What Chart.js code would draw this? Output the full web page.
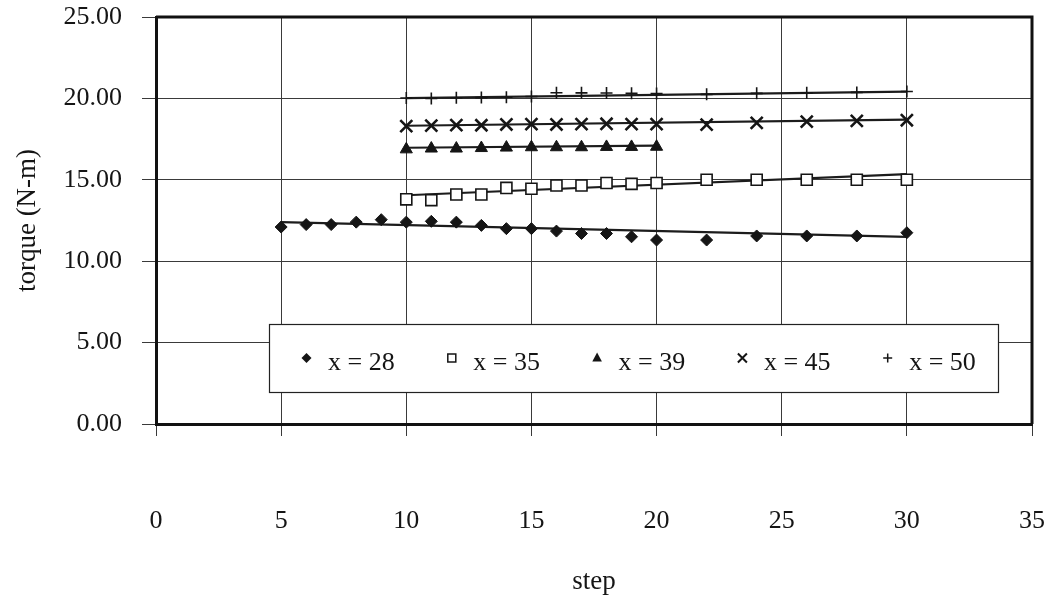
<!DOCTYPE html>
<html>
<head>
<meta charset="utf-8">
<title>torque vs step</title>
<script src="https://cdn.jsdelivr.net/npm/chart.js@4.4.1/dist/chart.umd.min.js"></script>
<style>
  html, body { margin: 0; padding: 0; background: #ffffff; }
  #wrap { width: 1055px; height: 602px; position: relative; }
</style>
</head>
<body>
<div id="wrap"><canvas id="c" width="1055" height="602"></canvas></div>
<script>
// ---- data -------------------------------------------------------------
const steps28 = [5, 6, 7, 8, 9, 10, 11, 12, 13, 14, 15, 16, 17, 18, 19, 20, 22, 24, 26, 28, 30];
const torque28 = [12.1, 12.25, 12.25, 12.4, 12.55, 12.4, 12.45, 12.4, 12.2, 12.0, 12.0, 11.85, 11.7, 11.7, 11.5, 11.3, 11.3, 11.55, 11.55, 11.55, 11.75];

const steps35 = [10, 11, 12, 13, 14, 15, 16, 17, 18, 19, 20, 22, 24, 26, 28, 30];
const torque35 = [13.8, 13.75, 14.1, 14.1, 14.5, 14.45, 14.65, 14.65, 14.8, 14.75, 14.8, 15.0, 15.0, 15.0, 15.0, 15.0];

const steps39 = [10, 11, 12, 13, 14, 15, 16, 17, 18, 19, 20];
const torque39 = [16.87, 16.92, 16.92, 16.95, 16.98, 17.0, 17.0, 17.0, 17.02, 17.02, 17.03];

const steps45 = [10, 11, 12, 13, 14, 15, 16, 17, 18, 19, 20, 22, 24, 26, 28, 30];
const torque45 = [18.3, 18.33, 18.36, 18.35, 18.4, 18.42, 18.4, 18.42, 18.44, 18.42, 18.42, 18.39, 18.5, 18.57, 18.62, 18.66];

const steps50 = [10, 11, 12, 13, 14, 15, 16, 17, 18, 19, 20, 22, 24, 26, 28, 30];
const torque50 = [20.02, 20.0, 20.04, 20.05, 20.07, 20.12, 20.35, 20.34, 20.33, 20.31, 20.3, 20.25, 20.31, 20.35, 20.37, 20.42];

// straight trend lines: end points (step, torque)
const trendSteps28 = [5, 30];
const trendTorque28 = [12.4, 11.5];
const trendSteps35 = [10, 30];
const trendTorque35 = [14.05, 15.35];
const trendSteps39 = [10, 20];
const trendTorque39 = [16.97, 17.1];
const trendSteps45 = [10, 30];
const trendTorque45 = [18.32, 18.7];
const trendSteps50 = [10, 30];
const trendTorque50 = [20.02, 20.42];

const seriesLabels = ['x = 28', 'x = 35', 'x = 39', 'x = 45', 'x = 50'];
const xTickValues = [0, 5, 10, 15, 20, 25, 30, 35];
const yTickValues = [0, 5, 10, 15, 20, 25];

// ---- helpers ----------------------------------------------------------
const pts = (xs, ys) => xs.map((x, i) => ({ x: x, y: ys[i] }));
const FONT = "'Liberation Serif', 'DejaVu Serif', serif";
const INK = '#151515';

const markerStyles = [
  { pointStyle: 'rectRot',  pointRadius: 6,   pointBackgroundColor: INK,    pointBorderColor: INK, pointBorderWidth: 1 },
  { pointStyle: 'rect',     pointRadius: 7.8, pointBackgroundColor: '#fff', pointBorderColor: INK, pointBorderWidth: 1.6 },
  { pointStyle: 'triangle', pointRadius: 7,   pointBackgroundColor: INK,    pointBorderColor: INK, pointBorderWidth: 1 },
  { pointStyle: 'crossRot', pointRadius: 8.5, pointBackgroundColor: INK,    pointBorderColor: INK, pointBorderWidth: 2.6 },
  { pointStyle: 'cross',    pointRadius: 6,   pointBackgroundColor: INK,    pointBorderColor: INK, pointBorderWidth: 1.6 }
];

const markerSeries = [
  pts(steps28, torque28), pts(steps35, torque35), pts(steps39, torque39),
  pts(steps45, torque45), pts(steps50, torque50)
];
const trendSeries = [
  pts(trendSteps28, trendTorque28), pts(trendSteps35, trendTorque35), pts(trendSteps39, trendTorque39),
  pts(trendSteps45, trendTorque45), pts(trendSteps50, trendTorque50)
];

const datasets = [];
markerSeries.forEach((data, i) => {
  datasets.push(Object.assign({
    label: seriesLabels[i], data: data, showLine: false, legendItem: true
  }, markerStyles[i]));
});
trendSeries.forEach((data) => {
  datasets.push({
    label: 'trend', data: data, showLine: true, pointRadius: 0,
    borderColor: '#1c1c1c', borderWidth: 2.2, fill: false
  });
});

// small legend glyphs
function drawGlyph(ctx, style, x, y) {
  ctx.save();
  ctx.fillStyle = INK; ctx.strokeStyle = INK;
  ctx.beginPath();
  switch (style) {
    case 'rectRot':
      ctx.moveTo(x, y - 5); ctx.lineTo(x + 5, y); ctx.lineTo(x, y + 5); ctx.lineTo(x - 5, y);
      ctx.closePath(); ctx.fill(); break;
    case 'rect':
      ctx.lineWidth = 1.5; ctx.rect(x - 4, y - 4, 8, 8); ctx.stroke(); break;
    case 'triangle':
      ctx.moveTo(x, y - 5.5); ctx.lineTo(x + 4.8, y + 3.5); ctx.lineTo(x - 4.8, y + 3.5);
      ctx.closePath(); ctx.fill(); break;
    case 'crossRot':
      ctx.lineWidth = 2; ctx.moveTo(x - 4.5, y - 4.5); ctx.lineTo(x + 4.5, y + 4.5);
      ctx.moveTo(x + 4.5, y - 4.5); ctx.lineTo(x - 4.5, y + 4.5); ctx.stroke(); break;
    case 'cross':
      ctx.lineWidth = 1.5; ctx.moveTo(x - 4.5, y); ctx.lineTo(x + 4.5, y);
      ctx.moveTo(x, y - 4.5); ctx.lineTo(x, y + 4.5); ctx.stroke(); break;
  }
  ctx.restore();
}

// frame on the top and right edges of the plot area
const framePlugin = {
  id: 'plotFrame',
  beforeDatasetsDraw(chart) {
    const { ctx, chartArea: a } = chart;
    ctx.save();
    ctx.strokeStyle = '#111';
    ctx.lineWidth = 3;
    ctx.beginPath();
    ctx.moveTo(a.left, a.top); ctx.lineTo(a.right, a.top); ctx.lineTo(a.right, a.bottom);
    ctx.stroke();
    ctx.restore();
  }
};

// legend box drawn inside the plot area
const boxLegendPlugin = {
  id: 'boxLegend',
  afterDatasetsDraw(chart) {
    const { ctx, chartArea: a } = chart;
    const bx = a.left + 113, by = a.top + 307, bw = 729, bh = 68;
    ctx.save();
    ctx.fillStyle = '#fff';
    ctx.fillRect(bx, by, bw, bh);
    ctx.strokeStyle = '#222';
    ctx.lineWidth = 1.2;
    ctx.strokeRect(bx + 0.5, by + 0.5, bw, bh);
    ctx.font = '26px ' + FONT;
    ctx.textBaseline = 'middle';
    ctx.textAlign = 'left';
    ctx.fillStyle = INK;
    chart.data.datasets.filter(d => d.legendItem).forEach((d, i) => {
      const mx = bx + 37.5 + i * 145.3;
      drawGlyph(ctx, d.pointStyle, mx, by + 34);
      ctx.fillText(d.label, mx + 21.5, by + 39);
    });
    ctx.restore();
  }
};

new Chart(document.getElementById('c'), {
  type: 'scatter',
  data: { datasets: datasets },
  plugins: [framePlugin, boxLegendPlugin],
  options: {
    responsive: false,
    animation: false,
    devicePixelRatio: 1,
    layout: { padding: { top: 17, right: 23, left: 0, bottom: 0 } },
    plugins: { legend: { display: false }, tooltip: { enabled: false } },
    scales: {
      x: {
        type: 'linear', min: 0, max: 35,
        afterBuildTicks: (s) => { s.ticks = xTickValues.map(v => ({ value: v })); },
        afterFit: (s) => { s.height = 178; s.paddingLeft = 0; s.paddingRight = 0; },
        grid: { color: '#3a3a3a', lineWidth: 1, drawTicks: true, tickLength: 12, tickColor: '#3a3a3a' },
        border: { display: true, color: '#111', width: 3 },
        ticks: { color: INK, font: { family: FONT, size: 26 }, padding: 70, maxRotation: 0 },
        title: { display: true, text: 'step', color: INK, font: { family: FONT, size: 27 }, padding: { top: 0, bottom: 4 } }
      },
      y: {
        type: 'linear', min: 0, max: 25,
        afterBuildTicks: (s) => { s.ticks = yTickValues.map(v => ({ value: v })); },
        afterFit: (s) => { s.width = 156; s.paddingTop = 0; s.paddingBottom = 0; },
        grid: { color: '#3a3a3a', lineWidth: 1, drawTicks: true, tickLength: 14, tickColor: '#3a3a3a' },
        border: { display: true, color: '#111', width: 3 },
        ticks: { color: INK, font: { family: FONT, size: 26 }, padding: 20, callback: (v) => Number(v).toFixed(2) },
        title: { display: true, text: 'torque (N-m)', color: INK, font: { family: FONT, size: 27 }, padding: { top: 12, bottom: 0 } }
      }
    }
  }
});
</script>
</body>
</html>
